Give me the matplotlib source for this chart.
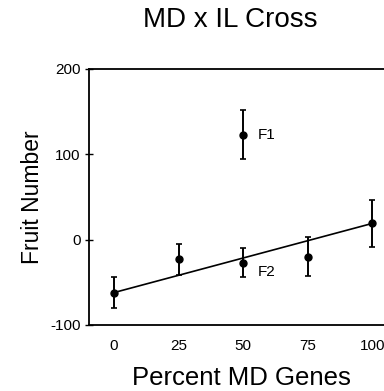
import matplotlib.pyplot as plt
import numpy as np

plt.rcParams['font.family'] = ['Liberation Sans', 'DejaVu Sans']
plt.rcParams['axes.unicode_minus'] = False

# percent MD genes and mean fruit number (+/- error)
pct = [0, 25, 50, 75, 100]
fruit = [-62, -23, -27, -20, 19]
fruit_err = [18, 18, 17, 23, 28]

f1_pct = [50]
f1_fruit = [123]
f1_err = [29]

xticks = [0, 25, 50, 75, 100]
yticks = [-100, 0, 100, 200]

fig = plt.figure(figsize=(3.84, 3.91), dpi=100)
ax = fig.add_axes([89 / 384, 1 - 325 / 391, 1 - 89 / 384, (325 - 69) / 391])

# additive expectation: line between the two parents
ax.plot([pct[0], pct[-1]], [fruit[0], fruit[-1]], color='black', lw=1.2)

ax.errorbar(pct, fruit, yerr=fruit_err, fmt='o', color='black', ms=5,
            elinewidth=1.4, capsize=2.2, capthick=1.2)
ax.errorbar(f1_pct, f1_fruit, yerr=f1_err, fmt='o', color='black', ms=5,
            elinewidth=1.4, capsize=2.2, capthick=1.2)

ax.text(55.5, f1_fruit[0], 'F1', fontsize=11, va='center', ha='left')
ax.text(55.5, -38, 'F2', fontsize=11, va='center', ha='left')

ax.set_xlim(-9.7, 104.6)
ax.set_ylim(-100, 200)
ax.set_xticks(xticks)
ax.set_yticks(yticks)
ax.tick_params(axis='x', length=0, pad=10, labelsize=11)
ax.tick_params(axis='y', direction='inout', length=6, width=1, pad=3, labelsize=11)

ax.spines['right'].set_visible(False)
for s in ['left', 'top', 'bottom']:
    ax.spines[s].set_linewidth(1.3)

ax.set_xlabel('Percent MD Genes', fontsize=18.5, va='baseline')
ax.xaxis.set_label_coords(0.517, -0.234)
ax.set_ylabel('Fruit Number', fontsize=16.5)
ax.yaxis.set_label_coords(-0.153, 0.5)

fig.text(230.5 / 384, 1 - 27 / 391, 'MD x IL Cross', fontsize=20,
         ha='center', va='baseline')

fig.savefig('out.png', dpi=100)
